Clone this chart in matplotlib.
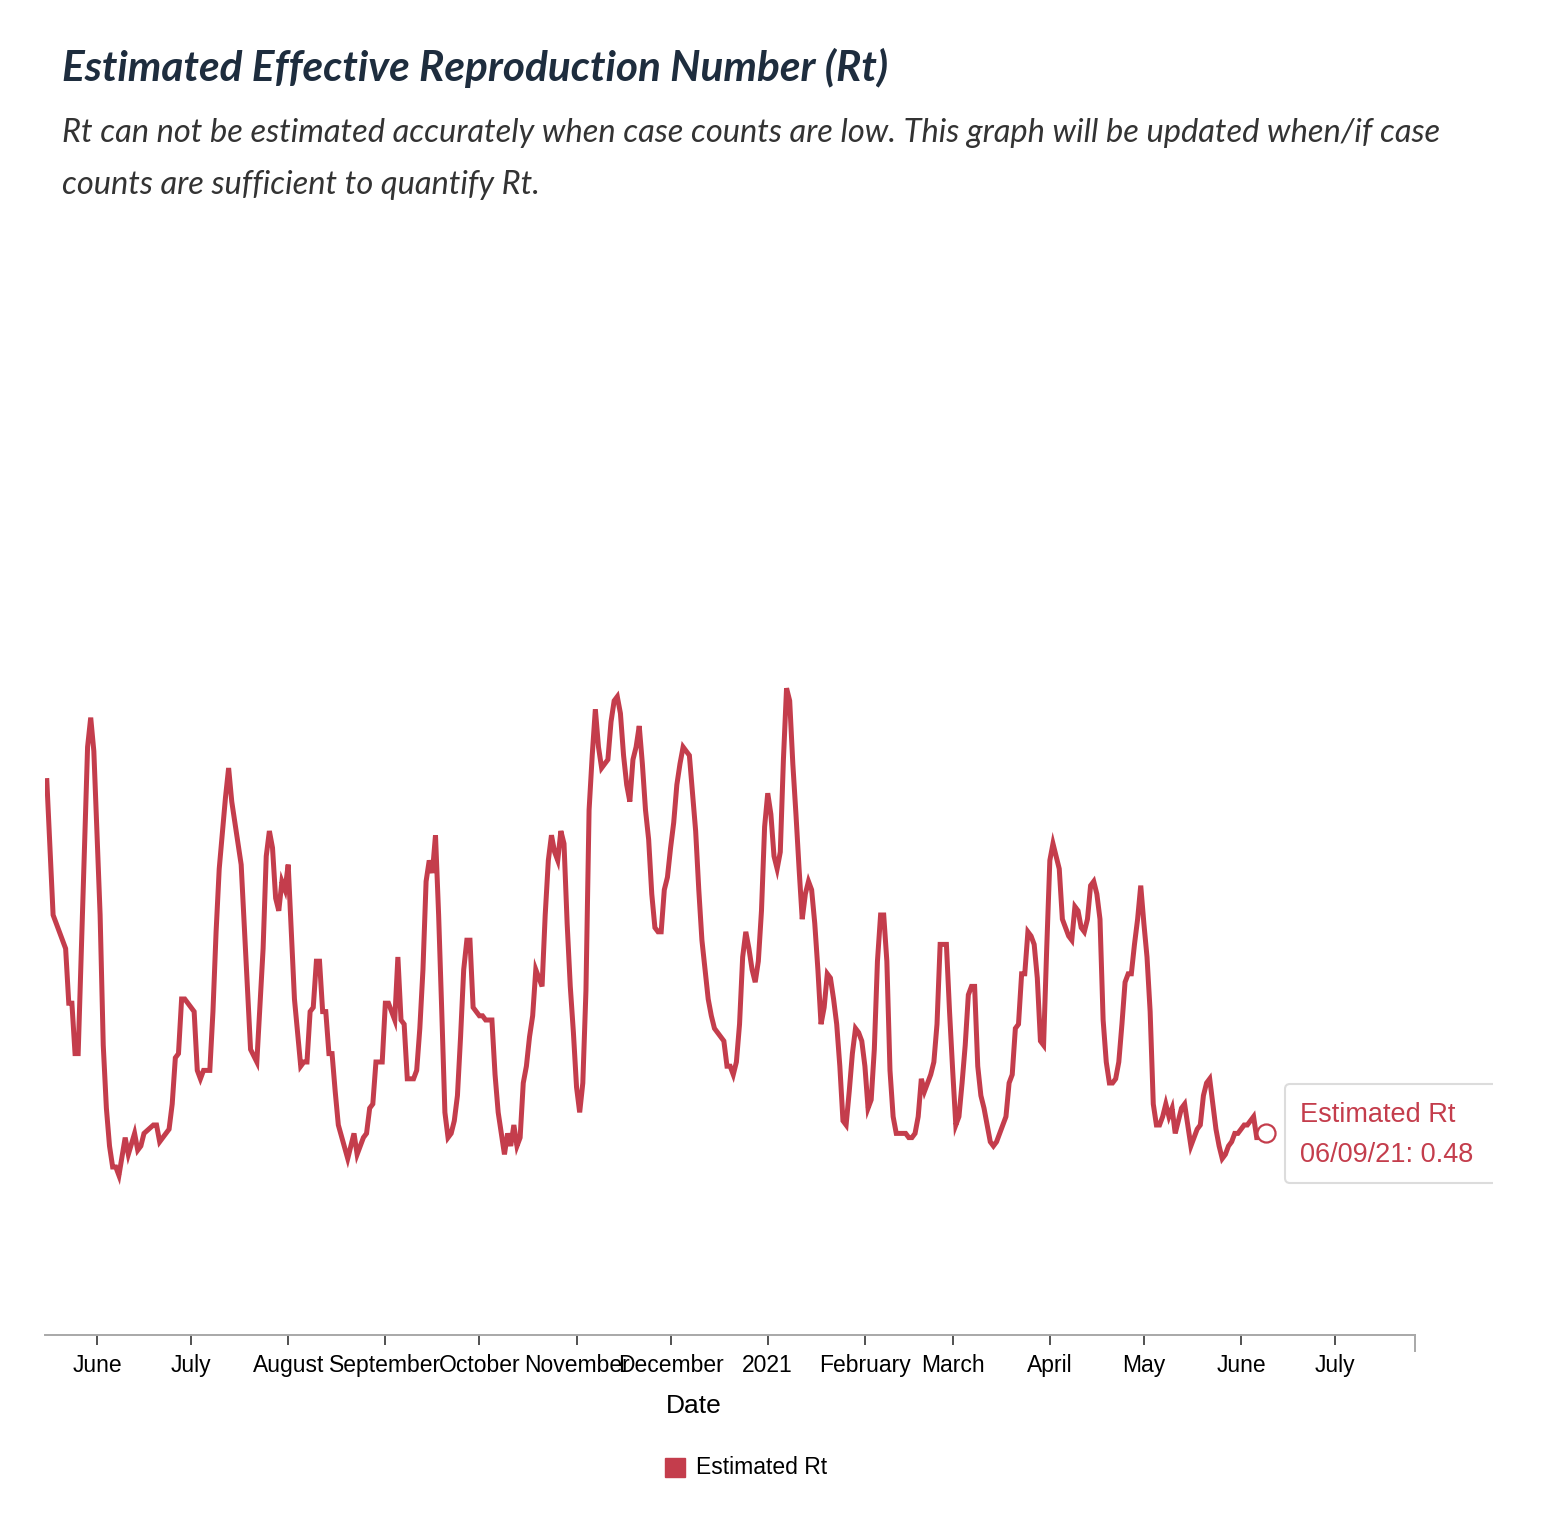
import matplotlib
matplotlib.use('Agg')
import matplotlib.pyplot as plt
import matplotlib.dates as mdates
import matplotlib.patches as patches
from matplotlib.transforms import Bbox
import pandas as pd

# early part of the series (May-Aug 2020), read at the corners of the line
early_dates = ['2020-05-16', '2020-05-18', '2020-05-22', '2020-05-23', '2020-05-24', '2020-05-25',
               '2020-05-26', '2020-05-29', '2020-05-30', '2020-05-31', '2020-06-02', '2020-06-03',
               '2020-06-04', '2020-06-05', '2020-06-06', '2020-06-07', '2020-06-08', '2020-06-10',
               '2020-06-11', '2020-06-13', '2020-06-14', '2020-06-15', '2020-06-16', '2020-06-19',
               '2020-06-20', '2020-06-21', '2020-06-24', '2020-06-25', '2020-06-26', '2020-06-27',
               '2020-06-28', '2020-06-29', '2020-07-02', '2020-07-03', '2020-07-04', '2020-07-05',
               '2020-07-07', '2020-07-08', '2020-07-09', '2020-07-10', '2020-07-12', '2020-07-13',
               '2020-07-14', '2020-07-16', '2020-07-17', '2020-07-20', '2020-07-22', '2020-07-24',
               '2020-07-25', '2020-07-26', '2020-07-27', '2020-07-28', '2020-07-29', '2020-07-30',
               '2020-07-31', '2020-08-01', '2020-08-03', '2020-08-05', '2020-08-06', '2020-08-07',
               '2020-08-08', '2020-08-09', '2020-08-10', '2020-08-11', '2020-08-12', '2020-08-13',
               '2020-08-14', '2020-08-15', '2020-08-16', '2020-08-17', '2020-08-20', '2020-08-22',
               '2020-08-23', '2020-08-24', '2020-08-25', '2020-08-26', '2020-08-27', '2020-08-28',
               '2020-08-29', '2020-08-31']
early_rt = [1.32, 1.00, 0.92, 0.79, 0.79, 0.67,
            0.67, 1.40, 1.47, 1.39, 1.00, 0.69,
            0.54, 0.45, 0.40, 0.40, 0.38, 0.47,
            0.43, 0.48, 0.44, 0.45, 0.48, 0.50,
            0.50, 0.46, 0.49, 0.55, 0.66, 0.67,
            0.80, 0.80, 0.77, 0.63, 0.61, 0.63,
            0.63, 0.77, 0.96, 1.11, 1.28, 1.35,
            1.27, 1.17, 1.12, 0.68, 0.65, 0.92,
            1.14, 1.20, 1.16, 1.04, 1.01, 1.08,
            1.06, 1.12, 0.80, 0.64, 0.65, 0.65,
            0.77, 0.78, 0.89, 0.89, 0.77, 0.77,
            0.67, 0.67, 0.58, 0.50, 0.42, 0.48,
            0.43, 0.45, 0.47, 0.48, 0.54, 0.55,
            0.65, 0.65]

# daily values from 2020-09-01 to 2021-06-09
daily_start = '2020-09-01'
sep_rt = [0.79, 0.79, 0.77, 0.75, 0.90, 0.75, 0.74, 0.61, 0.61, 0.61, 0.63, 0.73, 0.87, 1.08, 1.13,
          1.10, 1.19, 1.00, 0.77, 0.53, 0.47, 0.48, 0.51, 0.57, 0.71, 0.87, 0.94, 0.94, 0.78, 0.77]
oct_rt = [0.76, 0.76, 0.75, 0.75, 0.75, 0.62, 0.53, 0.48, 0.43, 0.48, 0.45, 0.50, 0.45, 0.47, 0.60,
          0.64, 0.71, 0.76, 0.87, 0.85, 0.83, 1.00, 1.13, 1.19, 1.15, 1.13, 1.20, 1.17, 0.98, 0.83, 0.72]
nov_rt = [0.59, 0.53, 0.60, 0.82, 1.25, 1.38, 1.49, 1.40, 1.35, 1.36, 1.37, 1.46, 1.51, 1.52, 1.48,
          1.38, 1.31, 1.27, 1.37, 1.40, 1.45, 1.36, 1.25, 1.18, 1.05, 0.97, 0.96, 0.96, 1.06, 1.09]
dec_rt = [1.16, 1.22, 1.31, 1.36, 1.40, 1.39, 1.38, 1.29, 1.20, 1.06, 0.94, 0.87, 0.80, 0.76, 0.73,
          0.72, 0.71, 0.70, 0.64, 0.64, 0.62, 0.65, 0.74, 0.90, 0.96, 0.92, 0.87, 0.84, 0.89, 1.01, 1.21]
jan_rt = [1.29, 1.24, 1.14, 1.11, 1.15, 1.37, 1.54, 1.51, 1.36, 1.24, 1.11, 0.99, 1.05, 1.08, 1.06,
          0.98, 0.87, 0.74, 0.78, 0.86, 0.85, 0.80, 0.74, 0.64, 0.51, 0.50, 0.58, 0.67, 0.73, 0.72, 0.70]
feb_rt = [0.64, 0.54, 0.56, 0.68, 0.89, 1.00, 1.00, 0.89, 0.63, 0.52, 0.48, 0.48, 0.48, 0.48,
          0.47, 0.47, 0.48, 0.52, 0.61, 0.58, 0.60, 0.62, 0.65, 0.74, 0.93, 0.93, 0.93, 0.77]
mar_rt = [0.63, 0.50, 0.52, 0.60, 0.69, 0.81, 0.83, 0.83, 0.64, 0.57, 0.54, 0.50, 0.46, 0.45, 0.46,
          0.48, 0.50, 0.52, 0.60, 0.62, 0.73, 0.74, 0.86, 0.86, 0.96, 0.95, 0.93, 0.85, 0.70, 0.69, 0.92]
apr_rt = [1.13, 1.17, 1.14, 1.11, 0.99, 0.97, 0.95, 0.94, 1.02, 1.01, 0.97, 0.96, 0.99, 1.07, 1.08,
          1.05, 0.99, 0.75, 0.65, 0.60, 0.60, 0.61, 0.65, 0.74, 0.84, 0.86, 0.86, 0.93, 0.99, 1.07]
may_rt = [0.98, 0.90, 0.77, 0.55, 0.50, 0.50, 0.52, 0.55, 0.52, 0.54, 0.48, 0.51, 0.54, 0.55, 0.50,
          0.45, 0.47, 0.49, 0.50, 0.57, 0.60, 0.61, 0.55, 0.49, 0.45, 0.42, 0.43, 0.45, 0.46, 0.48, 0.48]
jun_rt = [0.49, 0.50, 0.50, 0.51, 0.52, 0.47, 0.47, 0.47, 0.48]

tick_labels = ['June', 'July', 'August', 'September', 'October', 'November', 'December',
               '2021', 'February', 'March', 'April', 'May', 'June', 'July']

LINE = '#c43d4c'

daily_rt = sep_rt + oct_rt + nov_rt + dec_rt + jan_rt + feb_rt + mar_rt + apr_rt + may_rt + jun_rt
dates = list(pd.to_datetime(early_dates)) + list(pd.date_range(daily_start, periods=len(daily_rt), freq='D'))
rt = early_rt + daily_rt

W, H = 1566, 1516
fig = plt.figure(figsize=(W / 100, H / 100), dpi=100)
fig.patch.set_facecolor('white')

ax = fig.add_axes([45 / W, 181 / H, 1370 / W, 1071 / H])
ax.plot(dates, rt, color=LINE, linewidth=3.6, solid_joinstyle='miter', zorder=3)
# hover marker on the last point
ax.plot([dates[-1]], [rt[-1]], 'o', ms=13, mfc='white', mec=LINE, mew=1.6, zorder=4, clip_on=False)

ax.set_xlim(pd.Timestamp('2020-05-15 10:00'), pd.Timestamp('2021-07-26 12:00'))
ax.set_ylim(0, 2.55)

for s in ['left', 'top', 'right']:
    ax.spines[s].set_visible(False)
ax.spines['bottom'].set_color('#a8a8a8')
ax.spines['bottom'].set_linewidth(1.4)
ax.set_yticks([])

ticks = pd.date_range('2020-06-01', '2021-07-01', freq='MS')
ax.set_xticks(ticks)
ax.set_xticklabels(tick_labels, fontsize=16.5, family='Liberation Sans', color='black')
ax.tick_params(axis='x', length=7, width=1.2, color='#333333', pad=7)
# outer tick at the right end of the axis
ax.plot([1, 1], [0, -0.015], transform=ax.transAxes, color='#a8a8a8', lw=1.4, clip_on=False)

fig.text(694 / W, 1 - 1406 / H, 'Date', fontsize=19, family='Liberation Sans', ha='center', va='center')

# legend
fig.patches.append(patches.Rectangle((665 / W, 1 - 1477 / H), 20 / W, 19 / H,
                                     transform=fig.transFigure, color=LINE))
fig.text(696 / W, 1 - 1468 / H, 'Estimated Rt', fontsize=16.5, family='Liberation Sans', ha='left', va='center')

# titles
fig.text(62 / W, 1 - 68 / H, 'Estimated Effective Reproduction Number (Rt)', fontsize=30.5,
         family='Lato', weight='bold', style='italic', color='#1e2d3e', ha='left', va='center')
fig.text(62 / W, 1 - 133 / H,
         'Rt can not be estimated accurately when case counts are low. This graph will be updated when/if case',
         fontsize=23.5, family='Lato', style='italic', color='#333333', ha='left', va='center')
fig.text(62 / W, 1 - 185 / H, 'counts are sufficient to quantify Rt.',
         fontsize=23.5, family='Lato', style='italic', color='#333333', ha='left', va='center')

# tooltip box, cut by the right edge of the chart
box = patches.FancyBboxPatch((1285, H - 1183), 260, 99, boxstyle='round,pad=0,rounding_size=5',
                             transform=None, facecolor='white', edgecolor='#dcdcdc', linewidth=1.5)
box.set_clip_box(Bbox([[0, 0], [1493, H]]))
fig.patches.append(box)
fig.text(1300 / W, 1 - 1115 / H, 'Estimated Rt', fontsize=19.5, family='Liberation Sans', color=LINE,
         ha='left', va='center')
fig.text(1300 / W, 1 - 1155 / H, '06/09/21: 0.48', fontsize=19.5, family='Liberation Sans', color=LINE,
         ha='left', va='center')

fig.savefig('out.png', dpi=100)
